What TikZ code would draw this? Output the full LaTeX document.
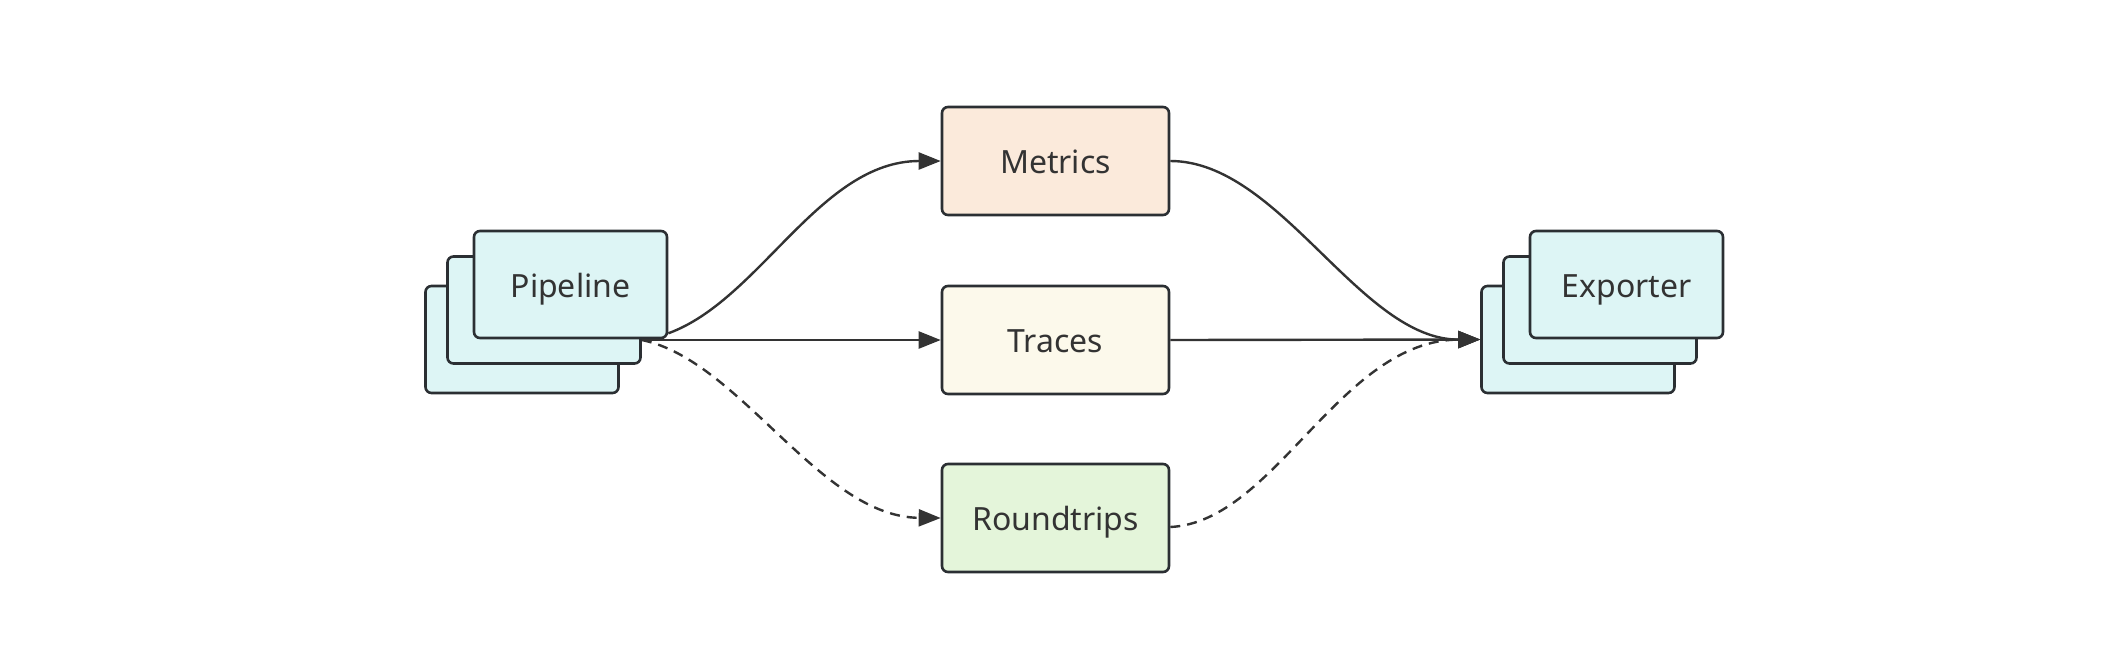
\documentclass[tikz,border=0pt]{standalone}
\usepackage{fontspec}
\setmainfont{Noto Sans}
\usetikzlibrary{arrows.meta}
\definecolor{stackfill}{HTML}{DDF5F5}
\definecolor{metricsfill}{HTML}{FBEADB}
\definecolor{tracesfill}{HTML}{FCF9EB}
\definecolor{roundfill}{HTML}{E4F5DA}
\definecolor{edgegray}{HTML}{333333}
\definecolor{bordergray}{HTML}{2B2F33}
\tikzstyle{box} = [draw=bordergray, line width=1.3pt, rounded corners=3pt, minimum width=113.5pt, minimum height=54pt, font=\fontsize{16}{19}\selectfont, text=edgegray, text height=13.4pt, text depth=0.6pt]
\tikzstyle{stackbox} = [box, fill=stackfill, minimum width=96.5pt, minimum height=53.5pt]
\tikzstyle{arrow} = [line width=1.2pt, draw=edgegray, -{Triangle[length=11pt,width=8.5pt]}]
\tikzstyle{dasharrow} = [arrow, dash pattern=on 5pt off 3.5pt]

\begin{document}
\begin{tikzpicture}[x=0.5pt, y=-0.5pt]
    \useasboundingbox (0,0) rectangle (2116,650);

    % Nodes (stacked sources and sinks)
    \node[stackbox] (pipeline3) at (522,339.5) {};
    \node[stackbox] (pipeline2) at (544,310) {};
    \node[stackbox] (pipeline) at (570.5,284.5) {Pipeline};

    \node[stackbox] (exporter3) at (1578,339.5) {};
    \node[stackbox] (exporter2) at (1600,310) {};
    \node[stackbox] (exporter) at (1626.5,284.5) {Exporter};

    % Nodes (middle column)
    \node[box, fill=metricsfill] (metrics) at (1055.5,161) {Metrics};
    \node[box, fill=tracesfill] (traces) at (1055.5,340) {Traces};
    \node[box, fill=roundfill] (roundtrips) at (1055.5,518) {Roundtrips};

    % Edges (pipeline to middle column)
    \draw[arrow] ([yshift=3pt]pipeline.south east) .. controls (760,300) and (820,161) .. (metrics.west);
    \draw[arrow] (pipeline2.east |- traces) -- (traces.west);
    \draw[dasharrow] (pipeline2.east |- traces) .. controls (740,360) and (820,517) .. (roundtrips.west);

    % Edges (middle column to exporter)
    \draw[arrow] (metrics.east) .. controls (1280,161) and (1360,340) .. (exporter3.west);
    \draw[arrow] (traces.east) -- (exporter3.west);
    \draw[dasharrow] ([yshift=-4.5pt]roundtrips.east) .. controls (1275,522) and (1340,340) .. (exporter3.west);
\end{tikzpicture}
\end{document}
